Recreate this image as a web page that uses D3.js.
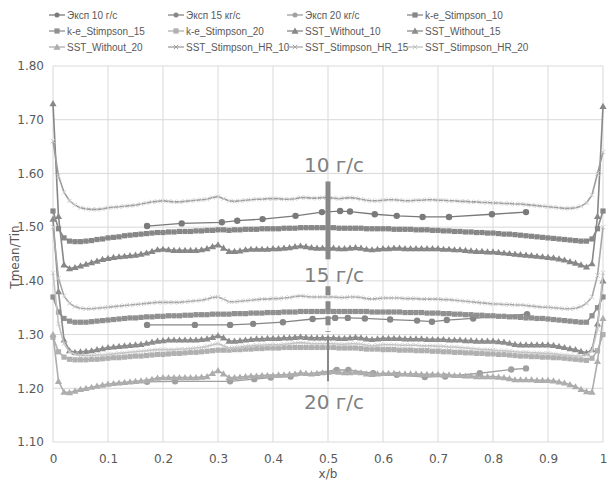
<!DOCTYPE html>
<html>
<head>
<meta charset="utf-8">
<script src="https://cdn.jsdelivr.net/npm/d3@7"></script>
<style>
  body { margin: 0; background: #fff; }
  svg { display: block; }
</style>
</head>
<body>
<svg></svg>
<script>
// x/b grid shared by all CFD profiles (step 0.01)
const xGrid = d3.range(101).map(i => i / 100)

// experiment points
const expX10 = [0.171, 0.234, 0.307, 0.335, 0.381, 0.441, 0.489, 0.522, 0.540, 0.585, 0.625, 0.672, 0.720, 0.798, 0.860]
const exp10 = [1.502, 1.507, 1.509, 1.512, 1.515, 1.521, 1.528, 1.530, 1.529, 1.524, 1.521, 1.519, 1.519, 1.524, 1.528]
const expX15 = [0.171, 0.258, 0.322, 0.364, 0.418, 0.472, 0.513, 0.536, 0.567, 0.613, 0.662, 0.689, 0.716, 0.764, 0.862]
const exp15 = [1.318, 1.318, 1.318, 1.320, 1.323, 1.329, 1.331, 1.331, 1.330, 1.328, 1.326, 1.324, 1.327, 1.330, 1.338]
const expX20 = [0.171, 0.222, 0.322, 0.366, 0.396, 0.432, 0.516, 0.537, 0.582, 0.625, 0.676, 0.713, 0.776, 0.833, 0.860]
const exp20 = [1.212, 1.213, 1.213, 1.217, 1.220, 1.222, 1.234, 1.234, 1.228, 1.225, 1.221, 1.222, 1.228, 1.235, 1.237]

// CFD profiles, one value per xGrid point
const ke10 = [1.530, 1.497, 1.480, 1.474, 1.473, 1.473, 1.474, 1.475, 1.477, 1.478,
  1.480, 1.481, 1.482, 1.484, 1.485, 1.486, 1.487, 1.488, 1.489, 1.490,
  1.490, 1.491, 1.491, 1.492, 1.492, 1.492, 1.493, 1.493, 1.494, 1.494,
  1.495, 1.495, 1.494, 1.495, 1.495, 1.496, 1.496, 1.496, 1.497, 1.497,
  1.497, 1.497, 1.498, 1.498, 1.498, 1.499, 1.499, 1.499, 1.499, 1.499,
  1.499, 1.499, 1.498, 1.498, 1.498, 1.498, 1.498, 1.497, 1.497, 1.497,
  1.497, 1.497, 1.496, 1.496, 1.496, 1.496, 1.495, 1.495, 1.495, 1.494,
  1.494, 1.493, 1.493, 1.492, 1.492, 1.491, 1.491, 1.490, 1.490, 1.489,
  1.489, 1.488, 1.487, 1.487, 1.486, 1.485, 1.484, 1.483, 1.482, 1.481,
  1.480, 1.479, 1.478, 1.477, 1.476, 1.475, 1.474, 1.474, 1.478, 1.497, 1.530]
const ke15 = [1.370, 1.342, 1.330, 1.325, 1.323, 1.323, 1.323, 1.324, 1.325, 1.326,
  1.327, 1.328, 1.329, 1.330, 1.331, 1.331, 1.332, 1.333, 1.333, 1.334,
  1.334, 1.335, 1.335, 1.335, 1.336, 1.336, 1.337, 1.337, 1.337, 1.338,
  1.338, 1.338, 1.338, 1.339, 1.339, 1.339, 1.340, 1.340, 1.340, 1.341,
  1.341, 1.341, 1.342, 1.342, 1.342, 1.343, 1.343, 1.343, 1.343, 1.343,
  1.343, 1.343, 1.343, 1.343, 1.343, 1.343, 1.343, 1.343, 1.342, 1.342,
  1.342, 1.342, 1.342, 1.342, 1.341, 1.341, 1.341, 1.341, 1.340, 1.340,
  1.340, 1.339, 1.339, 1.338, 1.338, 1.337, 1.337, 1.336, 1.336, 1.335,
  1.335, 1.334, 1.334, 1.333, 1.333, 1.332, 1.331, 1.331, 1.330, 1.330,
  1.329, 1.328, 1.327, 1.326, 1.325, 1.324, 1.323, 1.323, 1.335, 1.350, 1.370]
const ke20 = [1.295, 1.268, 1.258, 1.254, 1.253, 1.253, 1.253, 1.254, 1.254, 1.255,
  1.256, 1.257, 1.257, 1.258, 1.259, 1.260, 1.260, 1.261, 1.262, 1.263,
  1.263, 1.264, 1.265, 1.265, 1.266, 1.267, 1.267, 1.268, 1.269, 1.270,
  1.271, 1.271, 1.271, 1.272, 1.272, 1.273, 1.273, 1.274, 1.274, 1.275,
  1.275, 1.275, 1.276, 1.276, 1.276, 1.276, 1.276, 1.276, 1.276, 1.276,
  1.276, 1.276, 1.275, 1.275, 1.275, 1.275, 1.274, 1.273, 1.273, 1.273,
  1.272, 1.272, 1.272, 1.271, 1.271, 1.271, 1.270, 1.270, 1.270, 1.269,
  1.269, 1.268, 1.268, 1.267, 1.267, 1.266, 1.266, 1.265, 1.265, 1.264,
  1.264, 1.263, 1.263, 1.262, 1.261, 1.260, 1.260, 1.259, 1.259, 1.258,
  1.258, 1.257, 1.257, 1.256, 1.255, 1.254, 1.253, 1.252, 1.256, 1.270, 1.300]
const sw10 = [1.730, 1.520, 1.430, 1.423, 1.425, 1.428, 1.431, 1.434, 1.437, 1.440,
  1.442, 1.444, 1.445, 1.446, 1.447, 1.448, 1.450, 1.452, 1.455, 1.458,
  1.459, 1.458, 1.457, 1.457, 1.457, 1.457, 1.457, 1.458, 1.460, 1.464,
  1.467, 1.461, 1.455, 1.455, 1.456, 1.458, 1.459, 1.459, 1.459, 1.459,
  1.460, 1.460, 1.461, 1.462, 1.464, 1.465, 1.464, 1.462, 1.461, 1.461,
  1.461, 1.461, 1.460, 1.460, 1.461, 1.462, 1.461, 1.459, 1.458, 1.459,
  1.460, 1.460, 1.461, 1.461, 1.460, 1.460, 1.460, 1.460, 1.460, 1.460,
  1.460, 1.459, 1.459, 1.458, 1.458, 1.457, 1.456, 1.455, 1.455, 1.454,
  1.454, 1.453, 1.452, 1.451, 1.450, 1.449, 1.448, 1.447, 1.446, 1.445,
  1.444, 1.443, 1.441, 1.439, 1.436, 1.433, 1.430, 1.426, 1.432, 1.520, 1.725]
const sw15 = [1.515, 1.380, 1.290, 1.270, 1.267, 1.268, 1.269, 1.270, 1.272, 1.274,
  1.276, 1.277, 1.278, 1.279, 1.280, 1.281, 1.282, 1.284, 1.286, 1.288,
  1.289, 1.290, 1.290, 1.290, 1.290, 1.290, 1.290, 1.291, 1.292, 1.295,
  1.298, 1.294, 1.288, 1.288, 1.289, 1.290, 1.291, 1.292, 1.292, 1.293,
  1.293, 1.293, 1.294, 1.294, 1.295, 1.296, 1.295, 1.294, 1.294, 1.294,
  1.294, 1.294, 1.293, 1.293, 1.294, 1.295, 1.294, 1.292, 1.291, 1.292,
  1.293, 1.293, 1.293, 1.293, 1.292, 1.292, 1.292, 1.292, 1.291, 1.291,
  1.291, 1.291, 1.290, 1.290, 1.290, 1.289, 1.289, 1.288, 1.288, 1.288,
  1.288, 1.287, 1.286, 1.284, 1.282, 1.281, 1.281, 1.281, 1.281, 1.281,
  1.281, 1.280, 1.278, 1.276, 1.274, 1.272, 1.269, 1.266, 1.272, 1.320, 1.400]
const sw20 = [1.300, 1.213, 1.193, 1.192, 1.195, 1.198, 1.200, 1.202, 1.204, 1.206,
  1.208, 1.209, 1.210, 1.211, 1.212, 1.213, 1.214, 1.215, 1.217, 1.219,
  1.220, 1.220, 1.220, 1.220, 1.220, 1.220, 1.220, 1.221, 1.222, 1.228,
  1.233, 1.227, 1.220, 1.220, 1.221, 1.222, 1.223, 1.223, 1.224, 1.224,
  1.224, 1.225, 1.225, 1.226, 1.227, 1.229, 1.228, 1.227, 1.228, 1.229,
  1.230, 1.231, 1.230, 1.229, 1.229, 1.230, 1.229, 1.227, 1.226, 1.227,
  1.228, 1.228, 1.228, 1.227, 1.227, 1.227, 1.227, 1.226, 1.226, 1.226,
  1.226, 1.225, 1.225, 1.224, 1.224, 1.223, 1.223, 1.222, 1.222, 1.222,
  1.222, 1.221, 1.220, 1.218, 1.216, 1.216, 1.216, 1.216, 1.215, 1.215,
  1.215, 1.214, 1.212, 1.210, 1.207, 1.203, 1.198, 1.194, 1.193, 1.250, 1.330]
const hr10 = [1.660, 1.595, 1.565, 1.549, 1.541, 1.536, 1.534, 1.533, 1.533, 1.534,
  1.536, 1.537, 1.538, 1.539, 1.540, 1.541, 1.543, 1.545, 1.547, 1.548,
  1.549, 1.548, 1.547, 1.547, 1.548, 1.549, 1.550, 1.551, 1.552, 1.555,
  1.557, 1.553, 1.549, 1.548, 1.549, 1.550, 1.551, 1.552, 1.552, 1.553,
  1.553, 1.553, 1.552, 1.552, 1.553, 1.555, 1.555, 1.554, 1.554, 1.555,
  1.555, 1.554, 1.553, 1.554, 1.555, 1.554, 1.552, 1.550, 1.549, 1.549,
  1.550, 1.551, 1.551, 1.550, 1.549, 1.549, 1.550, 1.550, 1.551, 1.551,
  1.550, 1.550, 1.549, 1.549, 1.548, 1.548, 1.547, 1.547, 1.546, 1.546,
  1.545, 1.545, 1.544, 1.544, 1.543, 1.543, 1.542, 1.541, 1.540, 1.539,
  1.538, 1.537, 1.536, 1.535, 1.535, 1.536, 1.539, 1.545, 1.560, 1.600, 1.640]
const hr15 = [1.500, 1.405, 1.372, 1.358, 1.352, 1.349, 1.348, 1.348, 1.349, 1.350,
  1.351, 1.352, 1.353, 1.354, 1.355, 1.356, 1.357, 1.358, 1.359, 1.360,
  1.360, 1.360, 1.360, 1.360, 1.361, 1.362, 1.363, 1.364, 1.366, 1.369,
  1.370, 1.366, 1.361, 1.361, 1.362, 1.363, 1.364, 1.365, 1.366, 1.366,
  1.367, 1.367, 1.368, 1.369, 1.371, 1.372, 1.371, 1.370, 1.370, 1.370,
  1.370, 1.370, 1.369, 1.369, 1.370, 1.370, 1.369, 1.367, 1.366, 1.367,
  1.368, 1.368, 1.368, 1.368, 1.367, 1.367, 1.367, 1.366, 1.366, 1.366,
  1.366, 1.365, 1.365, 1.364, 1.363, 1.362, 1.361, 1.360, 1.359, 1.358,
  1.357, 1.357, 1.356, 1.356, 1.355, 1.355, 1.354, 1.353, 1.352, 1.351,
  1.351, 1.350, 1.349, 1.348, 1.348, 1.349, 1.352, 1.358, 1.370, 1.410, 1.500]
const hr20 = [1.415, 1.320, 1.283, 1.268, 1.263, 1.261, 1.261, 1.261, 1.262, 1.262,
  1.263, 1.264, 1.265, 1.266, 1.267, 1.268, 1.269, 1.270, 1.271, 1.272,
  1.272, 1.272, 1.272, 1.273, 1.273, 1.274, 1.275, 1.276, 1.278, 1.281,
  1.283, 1.279, 1.275, 1.276, 1.277, 1.278, 1.279, 1.280, 1.280, 1.281,
  1.281, 1.281, 1.282, 1.283, 1.284, 1.285, 1.284, 1.283, 1.283, 1.283,
  1.283, 1.283, 1.282, 1.282, 1.283, 1.283, 1.282, 1.280, 1.279, 1.280,
  1.281, 1.281, 1.281, 1.280, 1.280, 1.280, 1.280, 1.279, 1.279, 1.279,
  1.278, 1.278, 1.277, 1.277, 1.276, 1.275, 1.274, 1.273, 1.272, 1.272,
  1.271, 1.270, 1.270, 1.269, 1.268, 1.267, 1.267, 1.266, 1.266, 1.265,
  1.265, 1.264, 1.263, 1.262, 1.261, 1.260, 1.260, 1.262, 1.270, 1.310, 1.415]

const yTicks = [1.1, 1.2, 1.3, 1.4, 1.5, 1.6, 1.7, 1.8]
const xTicks = [0, 0.1, 0.2, 0.3, 0.4, 0.5, 0.6, 0.7, 0.8, 0.9, 1]
const flowLabels = ['10 г/с', '15 г/с', '20 г/с']

// series table, in Excel drawing order
const series = [
  {name: 'Эксп 10 г/с',  xs: expX10, ys: exp10, mark: 'circle',   color: '#7a7a7a'},
  {name: 'Эксп 15 кг/с', xs: expX15, ys: exp15, mark: 'circle',   color: '#878787'},
  {name: 'Эксп 20 кг/с', xs: expX20, ys: exp20, mark: 'circle',   color: '#a0a0a0'},
  {name: 'k-e_Stimpson_10', xs: xGrid, ys: ke10, mark: 'square', color: '#878787'},
  {name: 'k-e_Stimpson_15', xs: xGrid, ys: ke15, mark: 'square', color: '#909090'},
  {name: 'k-e_Stimpson_20', xs: xGrid, ys: ke20, mark: 'square', color: '#b0b0b0'},
  {name: 'SST_Without_10', xs: xGrid, ys: sw10, mark: 'triangle', color: '#878787'},
  {name: 'SST_Without_15', xs: xGrid, ys: sw15, mark: 'triangle', color: '#8c8c8c'},
  {name: 'SST_Without_20', xs: xGrid, ys: sw20, mark: 'triangle', color: '#adadad'},
  {name: 'SST_Stimpson_HR_10', xs: xGrid, ys: hr10, mark: 'cross', color: '#9c9c9c'},
  {name: 'SST_Stimpson_HR_15', xs: xGrid, ys: hr15, mark: 'cross', color: '#a6a6a6'},
  {name: 'SST_Stimpson_HR_20', xs: xGrid, ys: hr20, mark: 'cross', color: '#c2c2c2'}
]

const
    svgWidth = 608,
    svgHeight = 482,
    LEFT = 53,
    RIGHT = 603,
    TOP = 66,
    BOTTOM = 442

let svg = d3.select('svg')
    .attr('width', svgWidth)
    .attr('height', svgHeight)
    .style('font-family', 'DejaVu Sans, Verdana, sans-serif')

let x = d3.scaleLinear().domain([0, 1]).range([LEFT, RIGHT])
let y = d3.scaleLinear().domain([1.1, 1.8]).range([BOTTOM, TOP])

// gridlines
svg.append('g')
    .selectAll('line.v')
    .data(xTicks)
    .enter().append('line')
        .attr('x1', d => x(d)).attr('x2', d => x(d))
        .attr('y1', TOP).attr('y2', BOTTOM)
        .attr('stroke', '#d9d9d9')
svg.append('g')
    .selectAll('line.h')
    .data(yTicks)
    .enter().append('line')
        .attr('x1', LEFT).attr('x2', RIGHT)
        .attr('y1', d => y(d)).attr('y2', d => y(d))
        .attr('stroke', '#d9d9d9')

// axes, labels only
let yAxis = d3.axisLeft(y).tickValues(yTicks).tickFormat(d3.format('.2f')).tickSize(0).tickPadding(9)
let xAxis = d3.axisBottom(x).tickValues(xTicks).tickFormat(d => d3.format('')(d)).tickSize(0).tickPadding(12)

svg.append('g')
    .attr('transform', `translate(${LEFT},0)`)
    .call(yAxis)
    .call(g => g.select('.domain').remove())
    .selectAll('text')
        .style('font-size', '12px').style('font-family', 'DejaVu Sans, sans-serif').attr('fill', '#595959')

svg.append('g')
    .attr('transform', `translate(0,${BOTTOM})`)
    .call(xAxis)
    .call(g => g.select('.domain').remove())
    .selectAll('text')
        .style('font-size', '12px').style('font-family', 'DejaVu Sans, sans-serif').attr('fill', '#595959')

svg.append('text')
    .attr('x', (LEFT + RIGHT) / 2).attr('y', 478)
    .attr('text-anchor', 'middle')
    .style('font-size', '12px').attr('fill', '#595959')
    .text('x/b')

svg.append('text')
    .attr('transform', `translate(19, ${(TOP + BOTTOM) / 2 + 3}) rotate(-90)`)
    .attr('text-anchor', 'middle')
    .style('font-size', '12px').attr('fill', '#595959')
    .text('Tmean/Tin')

// markers
function drawMark(g, kind, color, cx, cy, legend) {
    if (kind === 'circle') {
        g.append('circle').attr('cx', cx).attr('cy', cy).attr('r', legend ? 2.5 : 3.2).attr('fill', color)
    } else if (kind === 'square') {
        g.append('rect').attr('x', cx - 2.6).attr('y', cy - 2.6).attr('width', 5.2).attr('height', 5.2).attr('fill', color)
    } else if (kind === 'triangle') {
        g.append('path').attr('transform', `translate(${cx},${cy + 0.6})`)
            .attr('d', d3.symbol(d3.symbolTriangle, 22)()).attr('fill', color)
    } else {
        g.append('path').attr('transform', `translate(${cx},${cy})`)
            .attr('d', 'M-2.2,-2.2L2.2,2.2M-2.2,2.2L2.2,-2.2')
            .attr('stroke', color).attr('stroke-width', 1).attr('fill', 'none')
    }
}

let line = d3.line().x(d => x(d[0])).y(d => y(d[1]))

series.forEach(s => {
    let pts = s.xs.map((v, i) => [v, s.ys[i]])
    let g = svg.append('g')
    g.append('path')
        .attr('d', line(pts))
        .attr('fill', 'none')
        .attr('stroke', s.color)
        .attr('stroke-width', s.mark === 'circle' ? 1.3 : 1.6)
    pts.forEach(p => drawMark(g, s.mark, s.mark === 'cross' ? '#cfcfcf' : s.color, x(p[0]), y(p[1]), false))
})

// flow-rate annotations at x/b = 0.5
let ann = svg.append('g').attr('fill', '#808080')
ann.append('line')
    .attr('x1', x(0.5)).attr('x2', x(0.5))
    .attr('y1', y(1.585)).attr('y2', y(1.44))
    .attr('stroke', '#888').attr('stroke-width', 5)
ann.append('line')
    .attr('x1', x(0.5)).attr('x2', x(0.5))
    .attr('y1', y(1.39)).attr('y2', y(1.305))
    .attr('stroke', '#888').attr('stroke-width', 5)
    .attr('stroke-dasharray', '9,6')
ann.append('line')
    .attr('x1', x(0.5)).attr('x2', x(0.5))
    .attr('y1', y(1.296)).attr('y2', y(1.213))
    .attr('stroke', '#888').attr('stroke-width', 2)

// baselines of the three labels, in Tmean/Tin units
const labelY = [1.603, 1.398, 1.161]
flowLabels.forEach((t, i) => {
    ann.append('text')
        .attr('x', x(0.5) + 6).attr('y', y(labelY[i]))
        .attr('text-anchor', 'middle')
        .style('font-size', '20px')
        .text(t)
})

// legend, 4 columns x 3 rows
const legX = [49, 168, 287, 407]
const legY = [15, 31, 47]
let leg = svg.append('g')
series.forEach((s, i) => {
    let lx = legX[i % 4], ly = legY[Math.floor(i / 4)]
    leg.append('line').attr('x1', lx).attr('x2', lx + 16).attr('y1', ly).attr('y2', ly)
        .attr('stroke', s.color).attr('stroke-width', 1.3)
    drawMark(leg, s.mark, s.color, lx + 8, ly, true)
    leg.append('text')
        .attr('x', lx + 18).attr('y', ly + 4)
        .style('font-family', 'Liberation Sans, Arial, sans-serif')
        .style('font-size', '10px')
        .attr('fill', '#595959')
        .text(s.name)
})
</script>
</body>
</html>
